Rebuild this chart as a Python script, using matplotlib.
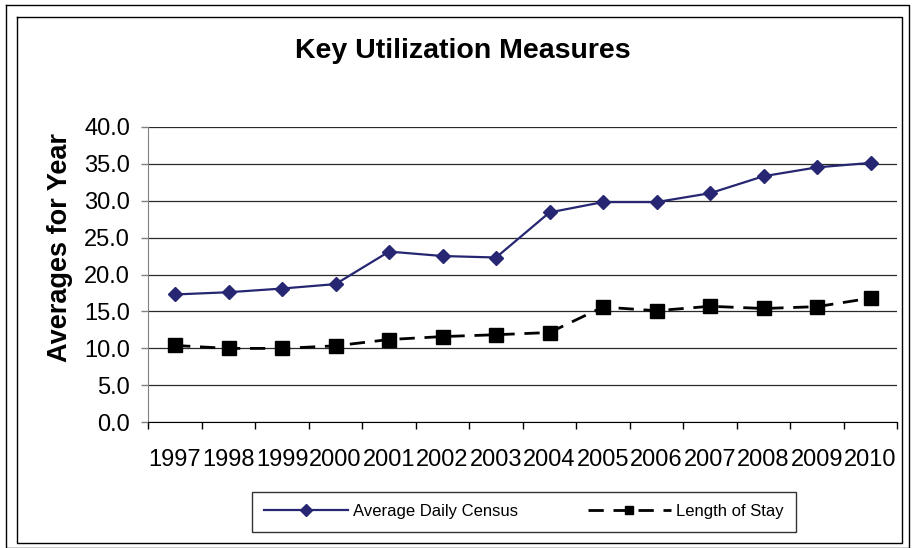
import numpy as np
import matplotlib
matplotlib.use("Agg")
import matplotlib.pyplot as plt
from matplotlib.lines import Line2D
from matplotlib.ticker import FixedLocator, FormatStrFormatter

plt.rcParams['font.family'] = ['Liberation Sans', 'DejaVu Sans']

# data
years = ['1997', '1998', '1999', '2000', '2001', '2002', '2003',
         '2004', '2005', '2006', '2007', '2008', '2009', '2010']
avg_daily_census = [17.3, 17.6, 18.1, 18.7, 23.1, 22.5, 22.3,
                    28.4, 29.8, 29.8, 31.0, 33.3, 34.5, 35.1]
length_of_stay = [10.4, 10.0, 10.0, 10.35, 11.2, 11.6, 11.85,
                  12.15, 15.6, 15.1, 15.7, 15.4, 15.65, 16.8]
y_ticks = [0, 5, 10, 15, 20, 25, 30, 35, 40]

W, H = 918, 548
fig = plt.figure(figsize=(W / 100, H / 100), dpi=100)

# chart borders (double frame)
def frame(x0, y0, x1, y1, lw):
    xs = [x0 / W, x1 / W, x1 / W, x0 / W, x0 / W]
    ys = [1 - y0 / H, 1 - y0 / H, 1 - y1 / H, 1 - y1 / H, 1 - y0 / H]
    fig.add_artist(Line2D(xs, ys, color='black', lw=lw))

frame(6, 5, 909, 547.5, 1.0)
frame(17, 17, 902, 543, 1.0)

ax = fig.add_axes([148.3 / W, 1 - 422.3 / H, (897.3 - 148.3) / W, (422.3 - 126.7) / H])
x = np.arange(len(years))

ax.plot(x, avg_daily_census, color='#262672', lw=1.6, marker='D', ms=7.5,
        label='Average Daily Census', zorder=3)
ax.plot(x, length_of_stay, color='black', lw=2.0, ls=(0, (5.5, 3.5)), marker='s',
        ms=9.5, label='Length of Stay', zorder=3)

ax.set_xlim(-0.5, len(years) - 0.5)
ax.set_ylim(0, 40)

ax.set_yticks(y_ticks)
ax.yaxis.set_major_formatter(FormatStrFormatter('%.1f'))
ax.tick_params(axis='y', length=5, width=1, color='#808080', pad=8, labelsize=17)
ax.yaxis.grid(True, color='#2a2a2a', lw=0.9)
ax.set_axisbelow(True)

ax.set_xticks(x)
ax.set_xticklabels(years)
ax.tick_params(axis='x', which='major', length=0, pad=19, labelsize=17)
ax.xaxis.set_minor_locator(FixedLocator(np.arange(len(years) + 1) - 0.5))
ax.tick_params(axis='x', which='minor', length=5, width=1, color='black', direction='out')

for s in ['top', 'right']:
    ax.spines[s].set_visible(False)
ax.spines['left'].set_color('#808080')
ax.spines['bottom'].set_color('black')

fig.text(463 / W, 1 - 50.5 / H, 'Key Utilization Measures', ha='center', va='center',
         fontsize=20.5, fontweight='bold')
fig.text(60 / W, 1 - 247.5 / H, 'Averages for Year', ha='center', va='center',
         rotation=90, fontsize=19.5, fontweight='bold')

leg = fig.legend(loc='center', bbox_to_anchor=(524 / W, 1 - 511.5 / H), ncol=2,
                 fontsize=12, frameon=True, fancybox=False, edgecolor='black',
                 handlelength=5.0, columnspacing=4.2, borderpad=0.75, handletextpad=0.3,
                 borderaxespad=0)
leg.get_frame().set_linewidth(1.0)
for h in leg.legend_handles:
    h.set_markersize(6)

fig.savefig('out.png', dpi=100)
